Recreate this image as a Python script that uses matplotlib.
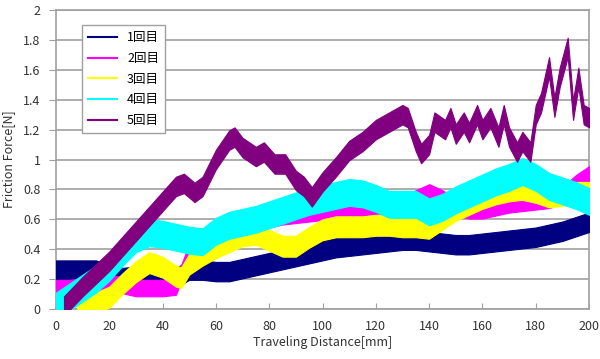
import matplotlib
matplotlib.use("Agg")
import matplotlib.pyplot as plt
from matplotlib.lines import Line2D
from matplotlib.ticker import FuncFormatter
import numpy as np

plt.rcParams['font.family'] = ['Noto Sans CJK JP', 'DejaVu Sans']

# band centre (N) and half spread of each run
x5 = list(range(0, 201, 5))

run1_mid = [0.26, 0.26, 0.26, 0.26, 0.23, 0.21, 0.22, 0.23, 0.22, 0.21, 0.26,
            0.26, 0.25, 0.25, 0.27, 0.29, 0.31, 0.33, 0.35, 0.37, 0.39,
            0.41, 0.42, 0.43, 0.44, 0.45, 0.46, 0.46, 0.45, 0.44, 0.43,
            0.43, 0.44, 0.45, 0.46, 0.47, 0.48, 0.50, 0.52, 0.55, 0.58]
run1_half = 0.065

run2_mid = [0.14, 0.14, 0.15, 0.16, 0.17, 0.16, 0.14, 0.14, 0.14, 0.15, 0.38,
            0.47, 0.50, 0.53, 0.56, 0.58, 0.60, 0.62, 0.63, 0.64, 0.65,
            0.67, 0.68, 0.67, 0.66, 0.68, 0.70, 0.74, 0.78, 0.74, 0.68,
            0.66, 0.66, 0.68, 0.70, 0.71, 0.72, 0.73, 0.76, 0.84, 0.90]
run2_half = 0.055

run3_x = [8, 15, 20, 25, 30, 35, 40, 45, 47, 50, 55, 60, 65, 70, 75, 80, 85,
          90, 95, 100, 105, 110, 115, 120, 125, 130, 135, 140, 145, 150, 155,
          160, 165, 170, 175, 180, 185, 190, 195, 200]
run3_mid = [0.03, 0.04, 0.08, 0.17, 0.25, 0.31, 0.28, 0.22, 0.21, 0.30, 0.36,
            0.41, 0.45, 0.49, 0.50, 0.46, 0.42, 0.42, 0.48, 0.53, 0.55, 0.55,
            0.55, 0.56, 0.56, 0.55, 0.55, 0.54, 0.60, 0.66, 0.70, 0.74, 0.77,
            0.79, 0.80, 0.78, 0.75, 0.76, 0.78, 0.78]
run3_half = 0.07

run4_mid = [0.02, 0.08, 0.14, 0.20, 0.28, 0.38, 0.47, 0.51, 0.50, 0.48, 0.46,
            0.45, 0.52, 0.56, 0.58, 0.60, 0.63, 0.66, 0.69, 0.72, 0.74,
            0.76, 0.78, 0.77, 0.74, 0.70, 0.70, 0.70, 0.65, 0.68, 0.73,
            0.77, 0.81, 0.85, 0.88, 0.92, 0.88, 0.82, 0.79, 0.76, 0.72]
run4_half = 0.09

run5_x = [3, 10, 20, 30, 40, 45, 48, 52, 55, 60, 65, 67, 70, 75, 78, 82, 86,
          90, 93, 96, 100, 105, 110, 115, 120, 125, 130, 132, 135, 137, 140,
          142, 146, 148, 150, 153, 155, 158, 160, 163, 166, 168, 170, 173,
          175, 178, 180, 182, 185, 187, 189, 192, 194, 196, 198, 200]
run5_mid = [0.02, 0.15, 0.32, 0.52, 0.72, 0.82, 0.84, 0.78, 0.82, 1.00, 1.13,
            1.15, 1.08, 1.02, 1.05, 0.97, 0.97, 0.86, 0.82, 0.75, 0.85, 0.95,
            1.06, 1.12, 1.20, 1.25, 1.30, 1.28, 1.12, 1.04, 1.10, 1.25, 1.20,
            1.28, 1.17, 1.25, 1.18, 1.30, 1.20, 1.28, 1.15, 1.30, 1.15, 1.05,
            1.12, 1.05, 1.30, 1.38, 1.62, 1.35, 1.55, 1.75, 1.33, 1.55, 1.30,
            1.28]
run5_half = 0.065

labels = ['1回目', '2回目', '3回目', '4回目', '5回目']
colors = ['#000080', '#ff00ff', '#ffff00', '#00ffff', '#800080']

runs = [(x5, run1_mid, run1_half), (x5, run2_mid, run2_half),
        (run3_x, run3_mid, run3_half), (x5, run4_mid, run4_half),
        (run5_x, run5_mid, run5_half)]

fig = plt.figure(figsize=(6, 3.59), dpi=100)
ax = fig.add_axes([0.0933, 0.1393, 0.8884, 0.8328])

for (xs, mid, half), c in zip(runs, colors):
    xs = np.array(xs, dtype=float)
    mid = np.array(mid)
    ax.fill_between(xs, mid - half, mid + half, color=c, lw=0.8,
                    edgecolor=c, zorder=3)

ax.set_xlim(0, 200)
ax.set_ylim(0, 2)
ax.set_xticks(range(0, 201, 20))
ax.set_yticks(np.arange(0, 2.01, 0.2))
ax.yaxis.set_major_formatter(FuncFormatter(lambda v, p: '%g' % round(v, 1)))
ax.yaxis.grid(True, color='#a0a0a0', lw=1.2)
ax.set_axisbelow(True)
for s in ax.spines.values():
    s.set_color('#a0a0a0')
    s.set_linewidth(1.2)
ax.tick_params(axis='x', direction='in', length=4, color='#a0a0a0',
               labelsize=9, labelcolor='#333333', pad=8)
ax.tick_params(axis='y', direction='out', length=5, color='#a0a0a0',
               labelsize=9, labelcolor='#333333', pad=6)

ax.set_xlabel('Traveling Distance[mm]', fontsize=9, color='#333333', labelpad=2)
ax.set_ylabel('Friction Force[N]', fontsize=9, color='#333333', labelpad=6)

handles = [Line2D([], [], color=c, lw=1.5) for c in colors]
leg = ax.legend(handles, labels, loc='upper left', bbox_to_anchor=(0.049, 0.95),
                fontsize=9, fancybox=False, framealpha=1, edgecolor='#a0a0a0',
                handlelength=2.3, borderaxespad=0, labelspacing=0.62,
                borderpad=0.5)
leg.get_frame().set_linewidth(1.0)

fig.savefig('out.png', dpi=100)
